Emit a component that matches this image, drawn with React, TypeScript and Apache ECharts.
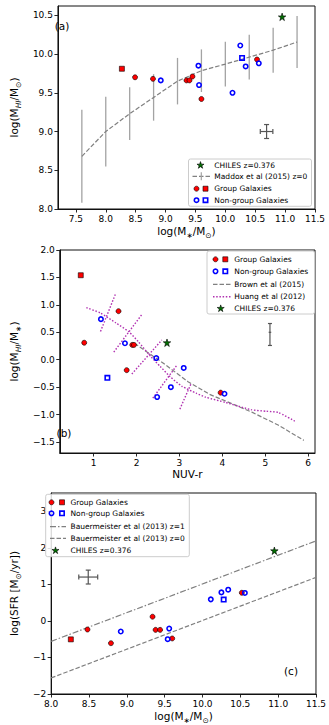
import React, { useEffect, useRef } from "react";
import * as echarts from "echarts";

const FONT = "DejaVu Sans";

// ---------- Panel (a): log(MHI/M*) vs log(M*) ----------
const aGroupCircX = [8.49, 8.79, 9.35, 9.40, 9.45, 9.60, 10.53];
const aGroupCircY = [9.70, 9.68, 9.66, 9.66, 9.71, 9.42, 9.93];
const aGroupSqX = [8.27];
const aGroupSqY = [9.81];
const aNonCircX = [8.92, 9.55, 9.56, 10.12, 10.25, 10.34, 10.56];
const aNonCircY = [9.66, 9.85, 9.60, 9.50, 10.11, 9.84, 9.88];
const aNonSqX = [10.28];
const aNonSqY = [9.95];
const aStarX = [10.95];
const aStarY = [10.48];
const maddoxX = [7.6, 8.0, 8.4, 8.8, 9.2, 9.6, 10.0, 10.4, 10.8, 11.2];
const maddoxY = [8.68, 9.0, 9.23, 9.44, 9.65, 9.785, 9.87, 9.96, 10.05, 10.155];
const maddoxLo = [8.08, 8.55, 8.89, 9.14, 9.35, 9.51, 9.58, 9.67, 9.76, 9.82];
const maddoxHi = [9.28, 9.45, 9.57, 9.74, 9.95, 10.06, 10.16, 10.25, 10.34, 10.49];
const aErr = [10.69, 9.0, 0.105, 8.91, 9.09];
const aXTicks = [7.5, 8.0, 8.5, 9.0, 9.5, 10.0, 10.5, 11.0, 11.5];
const aYTicks = [8.0, 8.5, 9.0, 9.5, 10.0, 10.5];

// ---------- Panel (b): log(MHI/M*) vs NUV-r ----------
const bGroupCircX = [0.78, 1.58, 1.77, 1.90, 1.94, 3.96];
const bGroupCircY = [0.31, 0.885, -0.19, 0.27, 0.27, -0.60];
const bGroupSqX = [0.70];
const bGroupSqY = [1.54];
const bNonCircX = [1.17, 1.73, 2.46, 2.48, 2.80, 3.10, 4.05];
const bNonCircY = [0.74, 0.30, 0.03, -0.68, -0.50, -0.15, -0.62];
const bNonSqX = [1.32];
const bNonSqY = [-0.33];
const bStarX = [2.71];
const bStarY = [0.31];
const brownX = [1.95, 2.6, 3.2, 3.7, 4.1, 4.7, 5.3, 5.9];
const brownY = [0.30, -0.05, -0.40, -0.63, -0.76, -0.96, -1.19, -1.47];
const huangX = [0.83, 1.16, 1.52, 1.82, 2.04, 2.33, 2.55, 2.77, 3.06, 3.39, 3.6, 4.08, 4.67, 5.03, 5.3, 5.69];
const huangY = [0.95, 0.85, 0.67, 0.51, 0.33, 0.06, -0.12, -0.30, -0.485, -0.61, -0.68, -0.78, -0.91, -0.94, -0.96, -1.12];
const huangErrX1 = [1.16, 1.47, 1.89, 2.38, 3.01];
const huangErrY1 = [0.515, 0.14, -0.26, -0.70, -0.90];
const huangErrX2 = [1.52, 2.12, 2.59, 2.95, 3.28];
const huangErrY2 = [1.22, 0.82, 0.36, -0.09, -0.42];
const bErr = [5.11, 0.50, 0.03, 0.26, 0.66];
const bXTicks = [1, 2, 3, 4, 5, 6];
const bYTicks = [-1.5, -1.0, -0.5, 0.0, 0.5, 1.0, 1.5, 2.0];

// ---------- Panel (c): log(SFR) vs log(M*) ----------
const cGroupCircX = [8.48, 8.79, 9.34, 9.38, 9.44, 9.60, 10.52];
const cGroupCircY = [-0.235, -0.61, 0.115, -0.245, -0.245, -0.48, 0.77];
const cGroupSqX = [8.26];
const cGroupSqY = [-0.505];
const cNonCircX = [8.92, 9.54, 9.56, 10.11, 10.25, 10.34, 10.56];
const cNonCircY = [-0.29, -0.50, -0.21, 0.59, 0.78, 0.855, 0.765];
const cNonSqX = [10.28];
const cNonSqY = [0.585];
const cStarX = [10.95];
const cStarY = [1.92];
const bauerX = [8.0, 11.5];
const bauerZ1 = [-0.56, 2.19];
const bauerZ0 = [-1.56, 1.19];
const cErr = [8.49, 1.20, 0.125, 1.01, 1.39];
const cXTicks = [8.0, 8.5, 9.0, 9.5, 10.0, 10.5, 11.0, 11.5];
const cYTicks = [-2, -1, 0, 1, 2, 3];

const STAR =
  "path://M0,-1L0.2245,-0.309L0.951,-0.309L0.363,0.118L0.588,0.809L0,0.382L-0.588,0.809L-0.363,0.118L-0.951,-0.309L-0.2245,-0.309Z";

const RED = "#ff0000";
const BLUE = "#0000ff";
const GREEN = "#007000";
const PURPLE = "#b030b0";
const GRAY = "#808080";
const BARGRAY = "#a3a3a3";
const ERRGRAY = "#555555";

const pairs = (xs: number[], ys: number[]) => xs.map((x, i) => [x, ys[i]]);
const fmt1 = (v: number) => (v < 0 ? "\u2212" : "") + Math.abs(v).toFixed(1);
const fmt0 = (v: number) => (v < 0 ? "\u2212" : "") + Math.abs(v).toFixed(0);

const rich = {
  n: { fontSize: 10.5, fontFamily: FONT, color: "#000", lineHeight: 14 },
  s: { fontSize: 7.5, fontFamily: FONT, color: "#000", lineHeight: 17, verticalAlign: "bottom" },
  si: { fontSize: 7.5, fontFamily: FONT, fontStyle: "italic", color: "#000", lineHeight: 17, verticalAlign: "bottom" },
};

function mkAxis(kind: "x" | "y", gridIndex: number, min: number, max: number, ticks: number[], fmt: (v: number) => string, name: string, nameGap: number) {
  return {
    type: "value",
    gridIndex,
    min,
    max,
    axisLine: { show: true, onZero: false, lineStyle: { color: "#111", width: 1 } },
    axisTick: { show: true, customValues: ticks, length: 3.5, lineStyle: { color: "#111", width: 0.9 } },
    axisLabel: { customValues: ticks, formatter: fmt, fontFamily: FONT, fontSize: 9, color: "#000", margin: 5 },
    splitLine: { show: false },
    name,
    nameLocation: "middle",
    nameGap,
    nameRotate: kind === "y" ? 90 : 0,
    nameTextStyle: { fontFamily: FONT, fontSize: 10.5, color: "#000", rich },
  };
}

function scatterSet(idx: number, gc: number[][], gs: number[][], nc: number[][], ns: number[][], st: number[][]) {
  const base = { type: "scatter", xAxisIndex: idx, yAxisIndex: idx, silent: true };
  return [
    { ...base, data: gc, symbol: "circle", symbolSize: 5, itemStyle: { color: RED, borderColor: "#000", borderWidth: 0.6, opacity: 1 }, z: 5 },
    { ...base, data: gs, symbol: "rect", symbolSize: 5, itemStyle: { color: RED, borderColor: "#000", borderWidth: 0.6, opacity: 1 }, z: 5 },
    { ...base, data: nc, symbol: "circle", symbolSize: 4.4, itemStyle: { color: "rgba(0,0,0,0)", borderColor: BLUE, borderWidth: 1.6, opacity: 1 }, z: 6 },
    { ...base, data: ns, symbol: "rect", symbolSize: 4.4, itemStyle: { color: "rgba(0,0,0,0)", borderColor: BLUE, borderWidth: 1.6, opacity: 1 }, z: 6 },
    { ...base, data: st, symbol: STAR, symbolSize: 7.5, itemStyle: { color: GREEN, borderColor: "#000", borderWidth: 0.6, opacity: 1 }, z: 7 },
  ];
}

function errCross(idx: number, d: number[], capX: boolean, capPx: number) {
  return {
    type: "custom",
    xAxisIndex: idx,
    yAxisIndex: idx,
    silent: true,
    z: 4,
    data: [d],
    renderItem: (params: any, api: any) => {
      const cx = api.value(0), cy = api.value(1), xe = api.value(2), lo = api.value(3), hi = api.value(4);
      const l = api.coord([cx - xe, cy]);
      const r = api.coord([cx + xe, cy]);
      const t = api.coord([cx, hi]);
      const b = api.coord([cx, lo]);
      const st = { stroke: ERRGRAY, lineWidth: 1.2 };
      const kids: any[] = [
        { type: "line", shape: { x1: l[0], y1: l[1], x2: r[0], y2: r[1] }, style: st },
        { type: "line", shape: { x1: t[0], y1: t[1], x2: b[0], y2: b[1] }, style: st },
        { type: "line", shape: { x1: t[0] - capPx, y1: t[1], x2: t[0] + capPx, y2: t[1] }, style: st },
        { type: "line", shape: { x1: b[0] - capPx, y1: b[1], x2: b[0] + capPx, y2: b[1] }, style: st },
      ];
      if (capX) {
        kids.push({ type: "line", shape: { x1: l[0], y1: l[1] - capPx, x2: l[0], y2: l[1] + capPx }, style: st });
        kids.push({ type: "line", shape: { x1: r[0], y1: r[1] - capPx, x2: r[0], y2: r[1] + capPx }, style: st });
      }
      return { type: "group", children: kids };
    },
  };
}

function starPts(cx: number, cy: number, R: number) {
  const pts: number[][] = [];
  for (let i = 0; i < 10; i++) {
    const r = i % 2 === 0 ? R : R * 0.382;
    const a = -Math.PI / 2 + (i * Math.PI) / 5;
    pts.push([cx + r * Math.cos(a), cy + r * Math.sin(a)]);
  }
  return pts;
}

const LT = { fontSize: 7.5, fontFamily: FONT, fill: "#000", align: "left", verticalAlign: "middle" };
const txt = (x: number, y: number, s: string) => ({ type: "text", x, y, z: 100, style: { ...LT, text: s } });
const lBox = (x: number, y: number, w: number, h: number) => ({
  type: "rect", z: 99, shape: { x, y, width: w, height: h, r: 2 },
  style: { fill: "rgba(255,255,255,0.85)", stroke: "#cccccc", lineWidth: 1 },
});
const gCirc = (cx: number, cy: number) => ({ type: "circle", z: 100, shape: { cx, cy, r: 2.5 }, style: { fill: RED, stroke: "#000", lineWidth: 0.6 } });
const gSq = (cx: number, cy: number) => ({ type: "rect", z: 100, shape: { x: cx - 2.5, y: cy - 2.5, width: 5, height: 5 }, style: { fill: RED, stroke: "#000", lineWidth: 0.6 } });
const nCirc = (cx: number, cy: number) => ({ type: "circle", z: 100, shape: { cx, cy, r: 2.2 }, style: { fill: "none", stroke: BLUE, lineWidth: 1.6 } });
const nSq = (cx: number, cy: number) => ({ type: "rect", z: 100, shape: { x: cx - 2.2, y: cy - 2.2, width: 4.4, height: 4.4 }, style: { fill: "none", stroke: BLUE, lineWidth: 1.6 } });
const star = (cx: number, cy: number) => ({ type: "polygon", z: 100, shape: { points: starPts(cx, cy + 0.3, 3.7) }, style: { fill: GREEN, stroke: "#000", lineWidth: 0.6 } });
const seg = (x1: number, x2: number, y: number, stroke: string, dash: number[] | null, w = 1.2) => ({
  type: "line", z: 100, shape: { x1, y1: y, x2, y2: y }, style: { stroke, lineWidth: w, lineDash: dash || undefined },
});
const vseg = (x: number, y1: number, y2: number, stroke: string) => ({ type: "line", z: 100, shape: { x1: x, y1, x2: x, y2 }, style: { stroke, lineWidth: 1.2 } });

const DASH = [4.5, 2];
const DOT = [1.5, 1.7];
const DASHDOT = [6, 2, 1.5, 2];

function buildOption() {
  const xAxes = [
    mkAxis("x", 0, 7.2, 11.5, aXTicks, fmt1, "{n|log(M}{s|\u2217}{n|/M}{s|\u2299}{n|)}", 13),
    mkAxis("x", 1, 0.21, 6.16, bXTicks, fmt0, "{n|NUV-r}", 14),
    mkAxis("x", 2, 8.0, 11.5, cXTicks, fmt1, "{n|log(M}{s|\u2217}{n|/M}{s|\u2299}{n|)}", 13),
  ];
  const yAxes = [
    mkAxis("y", 0, 8.0, 10.62, aYTicks, fmt1, "{n|log(M}{si|HI}{n|/M}{s|\u2299}{n|)}", 27),
    mkAxis("y", 1, -1.7, 2.0, bYTicks, fmt1, "{n|log(M}{si|HI}{n|/M}{s|\u2217}{n|)}", 29),
    mkAxis("y", 2, -2, 3.5, cYTicks, fmt0, "{n|log(SFR [M}{s|\u2299}{n|/yr])}", 22),
  ];
  const gridBase = { show: true, borderColor: "#111", borderWidth: 1, backgroundColor: "transparent", containLabel: false };
  const grid = [
    { ...gridBase, left: 42, top: 6, width: 273, height: 203 },
    { ...gridBase, left: 43, top: 250, width: 272, height: 203 },
    { ...gridBase, left: 42, top: 493, width: 274, height: 202 },
  ];

  const series: any[] = [];
  // Panel a
  series.push({
    type: "custom", xAxisIndex: 0, yAxisIndex: 0, silent: true, z: 2,
    data: maddoxX.map((x, i) => [x, maddoxLo[i], maddoxHi[i]]),
    renderItem: (params: any, api: any) => {
      const p = api.coord([api.value(0), api.value(1)]);
      const q = api.coord([api.value(0), api.value(2)]);
      return { type: "line", shape: { x1: p[0], y1: p[1], x2: q[0], y2: q[1] }, style: { stroke: BARGRAY, lineWidth: 1.3 } };
    },
  });
  series.push({ type: "line", xAxisIndex: 0, yAxisIndex: 0, silent: true, z: 3, data: pairs(maddoxX, maddoxY), symbol: "none", lineStyle: { color: GRAY, width: 1.2, type: DASH } });
  series.push(errCross(0, aErr, true, 2.5));
  series.push(...scatterSet(0, pairs(aGroupCircX, aGroupCircY), pairs(aGroupSqX, aGroupSqY), pairs(aNonCircX, aNonCircY), pairs(aNonSqX, aNonSqY), pairs(aStarX, aStarY)));

  // Panel b
  series.push({ type: "line", xAxisIndex: 1, yAxisIndex: 1, silent: true, z: 3, data: pairs(brownX, brownY), symbol: "none", lineStyle: { color: GRAY, width: 1.2, type: DASH } });
  series.push({ type: "line", xAxisIndex: 1, yAxisIndex: 1, silent: true, z: 3, data: pairs(huangX, huangY), symbol: "none", smooth: 0.2, lineStyle: { color: PURPLE, width: 1.4, type: DOT } });
  series.push({
    type: "custom", xAxisIndex: 1, yAxisIndex: 1, silent: true, z: 3,
    data: huangErrX1.map((x, i) => [x, huangErrY1[i], huangErrX2[i], huangErrY2[i]]),
    renderItem: (params: any, api: any) => {
      const p = api.coord([api.value(0), api.value(1)]);
      const q = api.coord([api.value(2), api.value(3)]);
      return { type: "line", shape: { x1: p[0], y1: p[1], x2: q[0], y2: q[1] }, style: { stroke: PURPLE, lineWidth: 1.4, lineDash: DOT } };
    },
  });
  series.push(errCross(1, bErr, false, 2));
  series.push(...scatterSet(1, pairs(bGroupCircX, bGroupCircY), pairs(bGroupSqX, bGroupSqY), pairs(bNonCircX, bNonCircY), pairs(bNonSqX, bNonSqY), pairs(bStarX, bStarY)));

  // Panel c
  series.push({ type: "line", xAxisIndex: 2, yAxisIndex: 2, silent: true, z: 3, data: pairs(bauerX, bauerZ1), symbol: "none", lineStyle: { color: GRAY, width: 1.2, type: DASHDOT } });
  series.push({ type: "line", xAxisIndex: 2, yAxisIndex: 2, silent: true, z: 3, data: pairs(bauerX, bauerZ0), symbol: "none", lineStyle: { color: GRAY, width: 1.2, type: DASH } });
  series.push(errCross(2, cErr, true, 2.5));
  series.push(...scatterSet(2, pairs(cGroupCircX, cGroupCircY), pairs(cGroupSqX, cGroupSqY), pairs(cNonCircX, cNonCircY), pairs(cNonSqX, cNonSqY), pairs(cStarX, cStarY)));

  // Legends & panel labels (layout only)
  const aRows = [165.0, 176.3, 188.7, 200.2];
  const bRows = [259.3, 271.3, 284.3, 296.7, 308.3];
  const cRows = [502.3, 513.3, 526.7, 538.3, 550.3];
  const graphic: any[] = [
    { type: "text", x: 62, y: 25.7, z: 100, style: { text: "(a)", fontSize: 10.5, fontFamily: FONT, fill: "#000", align: "center", verticalAlign: "middle" } },
    { type: "text", x: 64, y: 432.7, z: 100, style: { text: "(b)", fontSize: 10.5, fontFamily: FONT, fill: "#000", align: "center", verticalAlign: "middle" } },
    { type: "text", x: 291, y: 670.7, z: 100, style: { text: "(c)", fontSize: 10.5, fontFamily: FONT, fill: "#000", align: "center", verticalAlign: "middle" } },
    // legend a
    lBox(188.5, 159, 123, 47.3),
    star(200.5, aRows[0]), txt(214.3, aRows[0], "CHILES z=0.376"),
    seg(192.5, 210, aRows[1], GRAY, DASH), vseg(201.3, aRows[1] - 4, aRows[1] + 4, BARGRAY), txt(214.3, aRows[1], "Maddox et al (2015) z=0"),
    gCirc(196.5, aRows[2]), gSq(205.5, aRows[2]), txt(214.3, aRows[2], "Group Galaxies"),
    nCirc(196.5, aRows[3]), nSq(205.5, aRows[3]), txt(214.3, aRows[3], "Non-group Galaxies"),
    // legend b
    lBox(207, 251, 107.5, 63),
    gCirc(215.5, bRows[0]), gSq(225.3, bRows[0]), txt(234.3, bRows[0], "Group Galaxies"),
    nCirc(215.5, bRows[1]), nSq(225.3, bRows[1]), txt(234.3, bRows[1], "Non-group Galaxies"),
    seg(213, 230.5, bRows[2], GRAY, DASH), txt(234.3, bRows[2], "Brown et al (2015)"),
    seg(213, 230.5, bRows[3], PURPLE, DOT, 1.4), txt(234.3, bRows[3], "Huang et al (2012)"),
    star(220.7, bRows[4]), txt(234.3, bRows[4], "CHILES z=0.376"),
    // legend c
    lBox(45.7, 494.3, 143.6, 62.4),
    gCirc(51.5, cRows[0]), gSq(62, cRows[0]), txt(70.5, cRows[0], "Group Galaxies"),
    nCirc(51.5, cRows[1]), nSq(62, cRows[1]), txt(70.5, cRows[1], "Non-group Galaxies"),
    seg(50, 66, cRows[2], GRAY, DASHDOT), txt(70.5, cRows[2], "Bauermeister et al (2013) z=1"),
    seg(50, 66, cRows[3], GRAY, DASH), txt(70.5, cRows[3], "Bauermeister et al (2013) z=0"),
    star(55.5, cRows[4]), txt(70.5, cRows[4], "CHILES z=0.376"),
  ];

  return {
    animation: false,
    backgroundColor: "#ffffff",
    grid,
    xAxis: xAxes,
    yAxis: yAxes,
    series,
    graphic,
  };
}

export default function App() {
  const ref = useRef<HTMLDivElement>(null);
  useEffect(() => {
    if (!ref.current) return;
    const chart = echarts.init(ref.current, null, { renderer: "svg" });
    chart.setOption(buildOption() as any);
    return () => chart.dispose();
  }, []);
  return <div ref={ref} style={{ position: "absolute", left: 0, top: 0, width: 329, height: 725 }} />;
}
